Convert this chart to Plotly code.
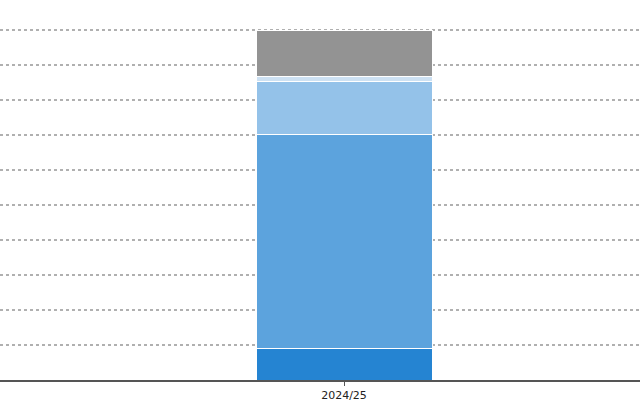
import plotly.graph_objects as go

categories = ["2024/25"]
series_names = ["Segment A", "Segment B", "Segment C", "Segment D", "Segment E"]
series_values = [[8.9], [61.2], [15.1], [1.5], [13.3]]
series_colors = ["#2584d2", "#5ca3dd", "#94c2e9", "#cde1f3", "#939393"]

fig = go.Figure()
for name, vals, col in zip(series_names, series_values, series_colors):
    fig.add_trace(go.Bar(
        x=categories, y=vals, name=name,
        marker=dict(color=col, line=dict(color="white", width=1)),
        width=0.275, hoverinfo="skip",
    ))

fig.update_layout(
    barmode="stack",
    width=640, height=400,
    margin=dict(l=0, r=0, t=0, b=20, autoexpand=False),
    paper_bgcolor="white", plot_bgcolor="white",
    showlegend=False,
    font=dict(family="DejaVu Sans", size=11, color="#222222"),
    xaxis=dict(
        range=[-0.5375, 0.4625],
        showline=True, linecolor="#555555", linewidth=1.5,
        ticks="outside", ticklen=4, tickcolor="#555555", tickwidth=1,
        showgrid=False, automargin=False,
    ),
    yaxis=dict(
        range=[0, 100 * 380 / 350],
        dtick=10, tick0=0,
        showticklabels=False, showline=False, zeroline=False,
        showgrid=True, gridcolor="#b0b0b0", griddash="dot", gridwidth=1.5,
        automargin=False,
    ),
)

fig.write_html(
    "out.html",
    config={"displayModeBar": False},
    post_script="document.body.style.margin='0';document.body.style.overflow='hidden';",
)
